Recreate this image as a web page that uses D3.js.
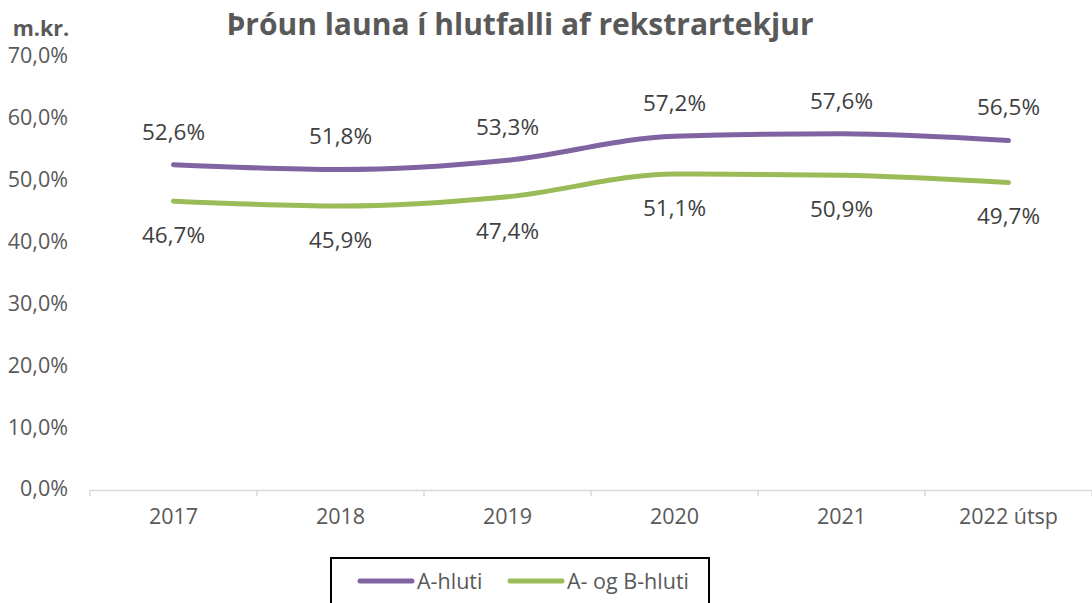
<!DOCTYPE html>
<html><head><meta charset="utf-8">
<script src="https://cdn.jsdelivr.net/npm/d3@7"></script>
<style>body{margin:0;background:#fff;} svg{display:block;}</style>
</head><body>
<svg id="c" width="1092" height="603"></svg>
<script>
const categories = ["2017","2018","2019","2020","2021","2022 útsp"];
const seriesA = [52.6, 51.8, 53.3, 57.2, 57.6, 56.5];
const seriesAB = [46.7, 45.9, 47.4, 51.1, 50.9, 49.7];
const yTicks = [0,10,20,30,40,50,60,70];
const seriesNames = ["A-hluti","A- og B-hluti"];
const colors = ["#8064A2","#9BBB59"];

const svg = d3.select("#c");
const font = "'Open Sans', 'Noto Sans', sans-serif";
const x = d3.scaleBand().domain(categories).range([90, 1092]);
const y = d3.scaleLinear().domain([0,70]).range([490, 57]);
const fmt = v => d3.format(".1f")(v).replace(".", ",") + "%";

// title
svg.append("text").attr("x", 520).attr("y", 35).attr("text-anchor","middle")
  .attr("font-family", font).attr("font-weight","bold").attr("font-size", 30)
  .attr("fill","#595959").text("Þróun launa í hlutfalli af rekstrartekjur");
svg.append("text").attr("x", 41).attr("y", 36).attr("text-anchor","middle")
  .attr("font-family", font).attr("font-weight","bold").attr("font-size", 21.5)
  .attr("fill","#595959").text("m.kr.");

// y labels
svg.append("g").selectAll("text").data(yTicks).join("text")
  .attr("x", 68).attr("y", d => y(d)).attr("dy","0.3em").attr("text-anchor","end")
  .attr("font-family", font).attr("font-size", 21.5).attr("fill","#595959")
  .text(d => fmt(d));

// x axis
const xa = svg.append("g").attr("transform","translate(0,490)")
  .call(d3.axisBottom(x).tickSize(0).tickPadding(19));
xa.select(".domain").attr("stroke","#d9d9d9").attr("stroke-width",1.5);
xa.selectAll("text").attr("font-family", font).attr("font-size", 21.5).attr("fill","#595959");
const edges = categories.map(c => x(c)).concat([x.range()[1]]);
svg.append("g").selectAll("line").data(edges).join("line")
  .attr("x1", d => d).attr("x2", d => d).attr("y1", 490).attr("y2", 496)
  .attr("stroke","#d9d9d9").attr("stroke-width",1.5);

const cx = c => x(c) + x.bandwidth()/2;
const line = d3.line().x((d,i) => cx(categories[i])).y(d => y(d)).curve(d3.curveMonotoneX);
[seriesA, seriesAB].forEach((s, k) => {
  svg.append("path").datum(s).attr("d", line).attr("fill","none")
    .attr("stroke", colors[k]).attr("stroke-width", 5).attr("stroke-linecap","round");
  svg.append("g").selectAll("text").data(s).join("text")
    .attr("x", (d,i) => cx(categories[i]))
    .attr("y", d => k === 0 ? y(d) - 33 : y(d) + 34)
    .attr("dy","0.35em").attr("text-anchor","middle")
    .attr("font-family", font).attr("font-size", 22.5).attr("fill","#404040")
    .text(d => fmt(d));
});

// legend
svg.append("rect").attr("x", 331).attr("y", 558).attr("width", 378).attr("height", 60)
  .attr("fill","none").attr("stroke","#000").attr("stroke-width", 2);
const lx = [360, 510];
seriesNames.forEach((n, k) => {
  svg.append("line").attr("x1", lx[k]).attr("x2", lx[k]+52).attr("y1", 581).attr("y2", 581)
    .attr("stroke", colors[k]).attr("stroke-width", 5).attr("stroke-linecap","round");
  svg.append("text").attr("x", lx[k]+57).attr("y", 581).attr("dy","0.35em")
    .attr("font-family", font).attr("font-size", 21.5).attr("fill","#595959").text(n);
});
</script>
</body></html>
